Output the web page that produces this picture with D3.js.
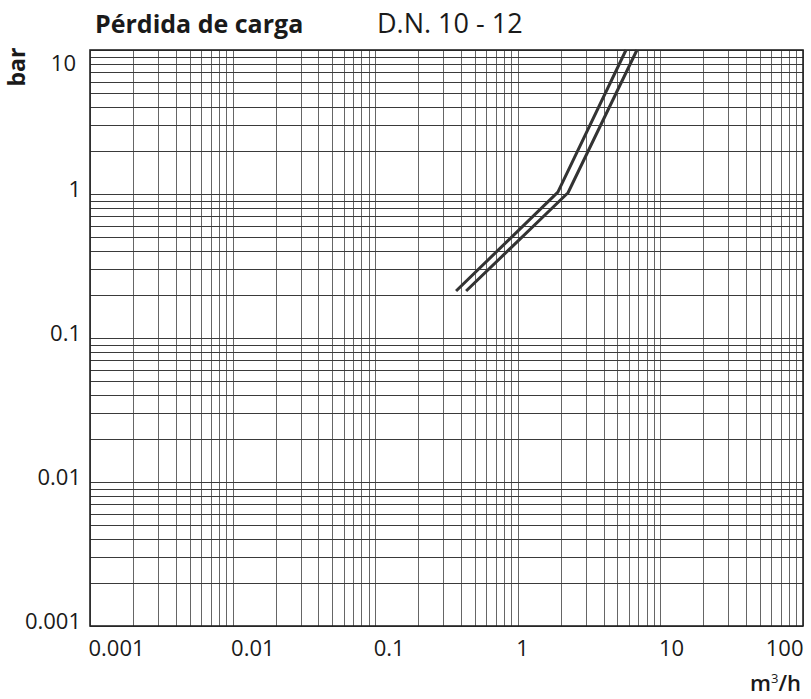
<!DOCTYPE html>
<html>
<head>
<meta charset="utf-8">
<script src="https://cdn.jsdelivr.net/npm/d3@7"></script>
<style>
  html, body { margin: 0; padding: 0; background: #fff; }
  svg { display: block; }
  text { font-family: "Open Sans", "Noto Sans", sans-serif; fill: #1a1a1a; }
</style>
</head>
<body>
<svg id="chart" width="811" height="699"></svg>
<script>
// Pressure loss curves, D.N. 10 - 12 (flow in m³/h vs. loss in bar)
const flowDN10 = [0.369, 1.91, 5.74];
const lossDN10 = [0.212, 1.03, 10];
const flowDN12 = [0.434, 2.25, 6.85];
const lossDN12 = [0.212, 1.02, 10];

const xTickValues = [0.001, 0.01, 0.1, 1, 10, 100];
const xTickLabels = ["0.001", "0.01", "0.1", "1", "10", "100"];
const yTickValues = [0.001, 0.01, 0.1, 1, 10];
const yTickLabels = ["0.001", "0.01", "0.1", "1", "10"];

const title = "Pérdida de carga";
const subtitle = "D.N. 10 - 12";
const yUnit = "bar";

const svg = d3.select("#chart");
const plotLeft = 90, plotRight = 803, plotTop = 50, plotBottom = 626;

const x = d3.scaleLog().domain([0.001, 100]).range([plotLeft, plotRight]);
const y = d3.scaleLog().domain([0.001, 10]).range([plotBottom, plotTop]);

// log grid: every 1..9 step in each decade
const gridX = [], gridY = [];
for (let e = -3; e < 2; e++) for (let k = 1; k < 10; k++) gridX.push(k * Math.pow(10, e));
gridX.push(100);
for (let e = -3; e < 1; e++) for (let k = 1; k < 10; k++) gridY.push(k * Math.pow(10, e));
gridY.push(10);

const grid = svg.append("g");
grid.selectAll("line.gx").data(gridX).join("line")
  .attr("class", "gx")
  .attr("x1", d => Math.round(x(d)) + 0.5).attr("x2", d => Math.round(x(d)) + 0.5)
  .attr("y1", plotTop).attr("y2", plotBottom)
  .attr("stroke", "#666").attr("stroke-width", 1);
grid.selectAll("line.gy").data(gridY).join("line")
  .attr("class", "gy")
  .attr("y1", d => Math.round(y(d)) + 0.5).attr("y2", d => Math.round(y(d)) + 0.5)
  .attr("x1", plotLeft).attr("x2", plotRight)
  .attr("stroke", "#3a3a3a").attr("stroke-width", 1);

// frame
svg.append("rect")
  .attr("x", plotLeft).attr("y", plotTop)
  .attr("width", plotRight - plotLeft).attr("height", plotBottom - plotTop)
  .attr("fill", "none").attr("stroke", "#222").attr("stroke-width", 1.6);

// axis labels
const xAxis = d3.axisBottom(x).tickValues(xTickValues)
  .tickFormat((d, i) => xTickLabels[i]).tickSize(0).tickPadding(0);
const gx = svg.append("g").attr("transform", `translate(0,${plotBottom})`).call(xAxis);
gx.select(".domain").remove();
gx.selectAll("text")
  .attr("y", 30).attr("dy", 0)
  .attr("x", (d, i) => i === xTickValues.length - 1 ? 0 : -2)
  .attr("text-anchor", (d, i) => i === xTickValues.length - 1 ? "end" : "start")
  .style("font-family", "'Open Sans', sans-serif").style("font-size", "22px").attr("fill", "#1a1a1a");

const yAxis = d3.axisLeft(y).tickValues(yTickValues)
  .tickFormat((d, i) => yTickLabels[i]).tickSize(0).tickPadding(0);
const gy = svg.append("g").attr("transform", `translate(${plotLeft},0)`).call(yAxis);
gy.select(".domain").remove();
gy.selectAll("text")
  .attr("x", (d, i) => i === yTickValues.length - 1 ? -14 : -9).attr("dy", 0)
  .attr("y", (d, i) => i === yTickValues.length - 1 ? 20 : 2)
  .attr("text-anchor", "end")
  .style("font-family", "'Open Sans', sans-serif").style("font-size", "22px").attr("fill", "#1a1a1a");

// curves: two parallel pressure-loss lines
const line = d3.line().x(d => x(d[0])).y(d => y(d[1]));
const series = [d3.zip(flowDN10, lossDN10), d3.zip(flowDN12, lossDN12)];
svg.append("g").selectAll("path").data(series).join("path")
  .attr("d", line)
  .attr("fill", "none").attr("stroke", "#333").attr("stroke-width", 3)
  .attr("stroke-linejoin", "round");

// titles
svg.append("text").attr("x", 95).attr("y", 33)
  .style("font-size", "25px").style("font-weight", 700).text(title);
svg.append("text").attr("x", 377).attr("y", 33)
  .style("font-size", "27px").style("font-weight", 400).text(subtitle);
svg.append("text").attr("transform", "translate(25,67) rotate(-90)")
  .attr("text-anchor", "middle")
  .style("font-size", "23px").style("font-weight", 700).text(yUnit);

const unit = svg.append("text").attr("x", 801).attr("y", 691)
  .attr("text-anchor", "end").style("font-size", "22px").style("font-weight", 600);
unit.append("tspan").text("m");
unit.append("tspan").attr("dy", -8).style("font-size", "13px").style("font-weight", 400).text("3");
unit.append("tspan").attr("dy", 8).text("/h");
</script>
</body>
</html>
